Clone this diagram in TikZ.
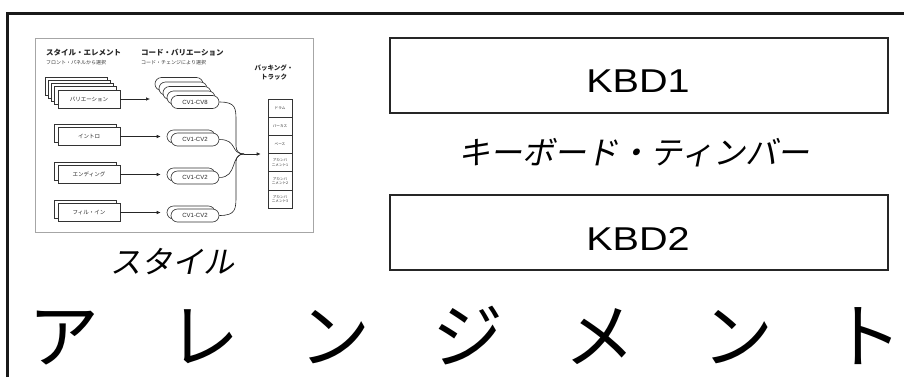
\documentclass[tikz,border=0pt]{standalone}
\usepackage{fontspec}
\setmainfont{Liberation Sans}
\newfontfamily\jp{Noto Sans CJK JP}
\newfontfamily\jpsl[FakeSlant=0.2]{Noto Sans CJK JP}
\newfontfamily\kbdf[FakeStretch=1.2]{Liberation Sans}
\usetikzlibrary{arrows.meta}
\tikzset{
  frameline/.style={line width=3bp, black!90, line join=miter},
  kbdbox/.style={draw=black!85, line width=1.2bp, minimum width=498bp, minimum height=75bp, inner sep=0},
  kbdtext/.style={inner sep=0, font=\kbdf\fontsize{33bp}{36bp}\selectfont},
  bigjp/.style={inner sep=0, font=\jpsl\fontsize{31bp}{34bp}\selectfont},
  hugejp/.style={inner sep=0, anchor=base, font=\jp\fontsize{71bp}{74bp}\selectfont},
  elem/.style={draw=black!80, fill=white, line width=0.6bp, minimum width=62bp, minimum height=18bp, inner sep=0, text=black!85, font=\jp\fontsize{5.5bp}{6bp}\selectfont},
  pill/.style={draw=black!80, fill=white, line width=0.6bp, rounded corners=6.5bp, minimum width=48bp, minimum height=13bp, inner sep=0, text=black!85, font=\fontsize{6bp}{7bp}\selectfont},
  cell/.style={draw=black!80, line width=0.6bp, minimum width=24bp, minimum height=18.2bp, inner sep=0, text=black!85, align=center, font=\jp\fontsize{3.6bp}{4.4bp}\selectfont},
  head/.style={inner sep=0, anchor=west, text=black!85, font=\jp\bfseries\fontsize{7.5bp}{8bp}\selectfont},
  subhead/.style={inner sep=0, anchor=west, text=black!80, font=\jp\fontsize{5bp}{6bp}\selectfont},
  wire/.style={line width=0.6bp, black!85},
  arr/.style={-{Latex[length=4bp,width=3.5bp]}, line width=0.6bp, black!85},
}
\begin{document}
\begin{tikzpicture}[x=1bp,y=-1bp]
\useasboundingbox (0,0) rectangle (904,377);
% outer frame
\draw[frameline] (7,377) -- (7,13) -- (904,13);
% inner picture frame
\draw[black!35, line width=0.8bp] (35,38) rectangle (313,232);
% headings
\node[head] (h1) at (46,53) {スタイル・エレメント};
\node[subhead] (s1) at (46,63) {フロント・パネルから選択};
\node[head] (h2) at (141,53) {コード・バリエーション};
\node[subhead] (s2) at (141,63) {コード・チェンジにより選択};
\node[inner sep=0, align=center, text=black!85, font=\jp\bfseries\fontsize{6.5bp}{9bp}\selectfont] (h3) at (274,72.5) {バッキング・\\トラック};
% element stacks
\foreach \k in {4,3,2,1} \node[elem] (va\k) at ({89-3.25*\k},{99-3.25*\k}) {};
\node[elem] (va) at (89,99) {バリエーション};
\node[elem] (vb1) at (85,133) {};
\node[elem] (vb) at (89,136.5) {イントロ};
\node[elem] (vc1) at (85,171) {};
\node[elem] (vc) at (89,174.5) {エンディング};
\node[elem] (vd1) at (85,209) {};
\node[elem] (vd) at (89,212.5) {フィル・イン};
% pill stacks
\foreach \k in {4,3,2,1} \node[pill] (pa\k) at ({195-4*\k},{102-4.5*\k}) {};
\node[pill] (pa) at (195,102) {CV1-CV8};
\node[pill] (pb1) at (191,136.5) {};
\node[pill] (pb) at (195,139.5) {CV1-CV2};
\node[pill] (pc1) at (191,174.5) {};
\node[pill] (pc) at (195,177.5) {CV1-CV2};
\node[pill] (pd1) at (191,212.5) {};
\node[pill] (pd) at (195,215.5) {CV1-CV2};
% arrows element -> chord variation
\coordinate (ta) at (150,99);
\draw[arr] (va.east) -- (ta);
\draw[arr, shorten >=6bp] (vb.east) -- (pb1.west);
\draw[arr, shorten >=6bp] (vc.east) -- (pc1.west);
\draw[arr, shorten >=6bp] (vd.east) -- (pd1.west);
% track box
\node[cell] (c1) at (280,108.1) {ドラム};
\node[cell] (c2) at (280,126.3) {パーカス};
\node[cell] (c3) at (280,144.4) {ベース};
\node[cell] (c4) at (280,162.6) {アカンパ\\ニメント1};
\node[cell] (c5) at (280,180.8) {アカンパ\\ニメント2};
\node[cell] (c6) at (280,198.9) {アカンパ\\ニメント3};
% converging wires
\coordinate (J) at (244,154);
\draw[wire] (pa.east) .. controls (236,102) and (236,108) .. (236,122) -- (236,146) .. controls (236,151) and (239,154) .. (J);
\draw[wire] (pb.east) .. controls (238,139.5) and (230,154) .. (J);
\draw[wire] (pc.east) .. controls (238,177.5) and (230,154) .. (J);
\draw[wire] (pd.east) .. controls (236,215.5) and (236,209) .. (236,195) -- (236,162) .. controls (236,157) and (239,154) .. (J);
\draw[arr, shorten >=7bp] (J) -- (J -| c4.west);
% caption under picture
\node[bigjp] (sty) at (172,262) {スタイル};
% keyboard boxes
\node[kbdbox] (k1) at (639,75.5) {};
\node[kbdtext, anchor=base] (k1t) at (638,92) {KBD1};
\node[bigjp, font=\jpsl\fontsize{32bp}{34bp}\selectfont] (kt) at (634,153) {キーボード・ティンバー};
\node[kbdbox] (k2) at (639,232.5) {};
\node[kbdtext, anchor=base] (k2t) at (638,250) {KBD2};
% big title
\node[hugejp] (t1) at (64,362) {ア};
\node[hugejp] (t2) at (204,362) {レ};
\node[hugejp] (t3) at (335,362) {ン};
\node[hugejp] (t4) at (468,362) {ジ};
\node[hugejp] (t5) at (600,362) {メ};
\node[hugejp] (t6) at (738,362) {ン};
\node[hugejp] (t7) at (867,362) {ト};
\end{tikzpicture}
\end{document}
